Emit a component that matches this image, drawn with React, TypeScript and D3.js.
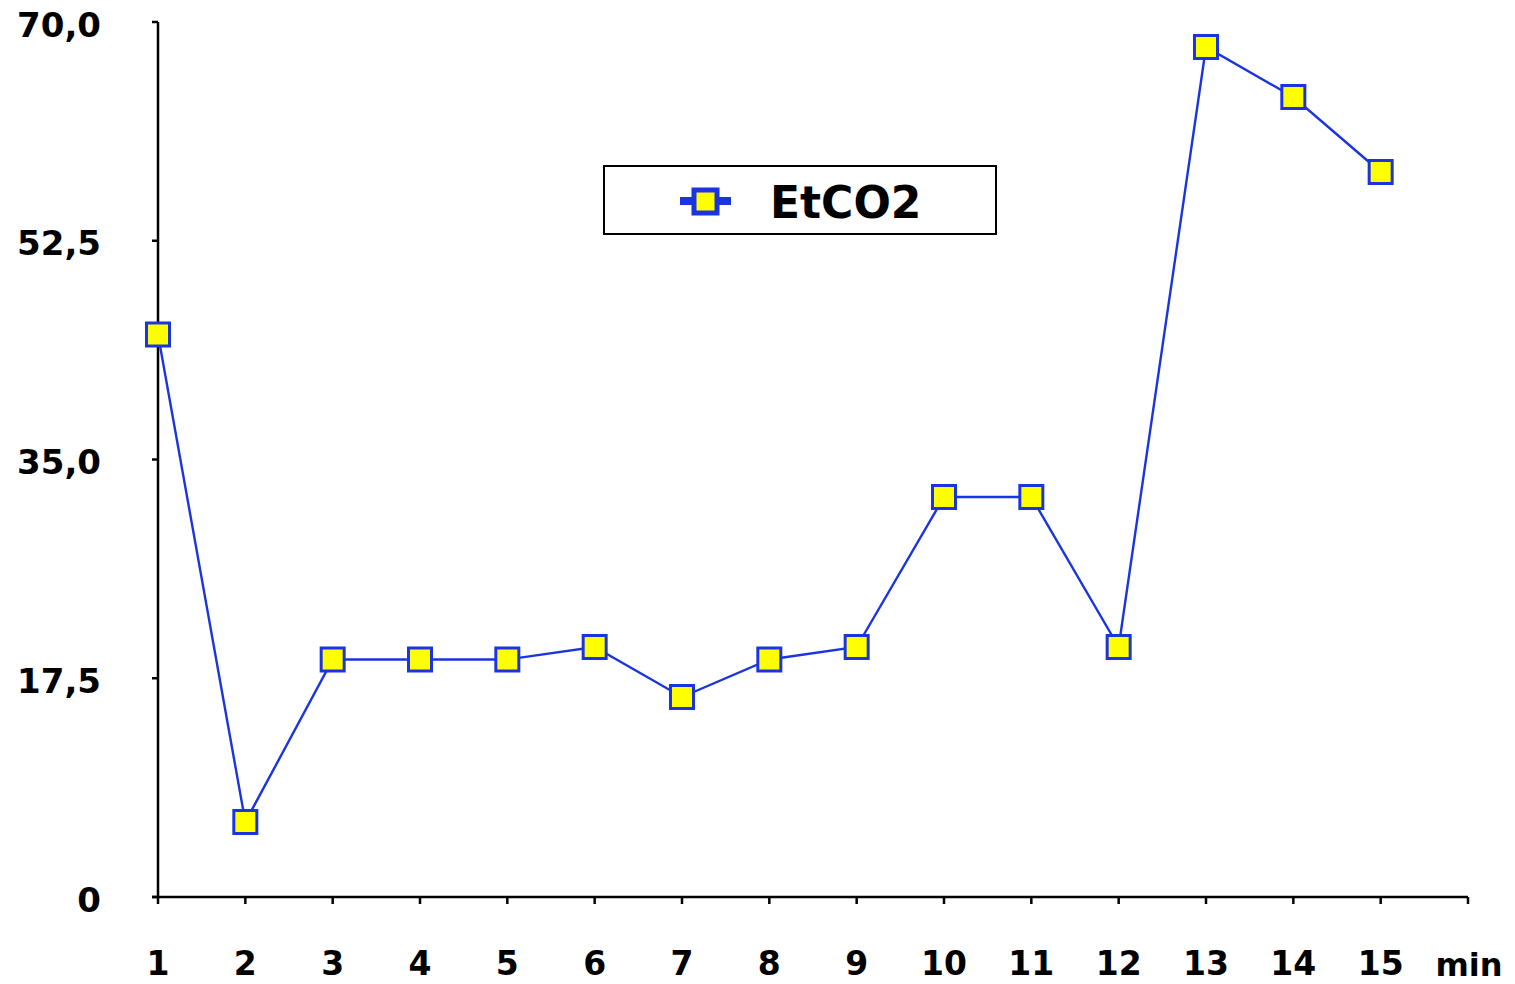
import React from "react";
import * as d3 from "d3";

const minutes = [1, 2, 3, 4, 5, 6, 7, 8, 9, 10, 11, 12, 13, 14, 15];
const etco2 = [45, 6, 19, 19, 19, 20, 16, 19, 20, 32, 32, 20, 68, 64, 58];
const yTicks = [0, 17.5, 35, 52.5, 70];
const yTickLabels = ["0", "17,5", "35,0", "52,5", "70,0"];
const seriesName = "EtCO2";
const xUnit = "min";

const W = 1515;
const H = 984;
const FONT = "'DejaVu Sans', Verdana, sans-serif";

export default function App() {
  const x = d3.scaleLinear().domain([1, 16]).range([158, 1468]);
  const y = d3.scaleLinear().domain([0, 70]).range([897, 22]);
  const line = d3
    .line<number>()
    .x((_, i) => x(minutes[i]))
    .y((d) => y(d));
  const blue = "#1a35e0";
  const ms = 23;
  const xTickVals = [...minutes, 16];

  return (
    <svg
      width={W}
      height={H}
      style={{ position: "absolute", left: 0, top: 0, background: "#fff" }}
      fontFamily={FONT}
    >
      {/* y axis */}
      <line x1={158} x2={158} y1={y(70)} y2={y(0)} stroke="#000" strokeWidth={2.5} />
      {yTicks.map((t, i) => (
        <g key={t}>
          <line x1={152} x2={158} y1={y(t)} y2={y(t)} stroke="#000" strokeWidth={2.5} />
          <text
            x={101}
            y={y(t) + 5}
            textAnchor="end"
            dominantBaseline="middle"
            fontSize={34}
            fontWeight="bold"
            fill="#000"
          >
            {yTickLabels[i]}
          </text>
        </g>
      ))}
      {/* x axis */}
      <line x1={152} x2={x(16)} y1={y(0)} y2={y(0)} stroke="#000" strokeWidth={2.5} />
      {xTickVals.map((t) => (
        <line key={t} x1={x(t)} x2={x(t)} y1={y(0)} y2={y(0) + 7} stroke="#000" strokeWidth={2.5} />
      ))}
      {minutes.map((m) => (
        <text
          key={m}
          x={x(m)}
          y={975}
          textAnchor="middle"
          fontSize={33}
          fontWeight="bold"
          fill="#000"
        >
          {m}
        </text>
      ))}
      <text x={1469} y={976} textAnchor="middle" fontSize={32} fontWeight="bold" fill="#000">
        {xUnit}
      </text>

      {/* series */}
      <path d={line(etco2) || ""} fill="none" stroke={blue} strokeWidth={2.4} />
      {etco2.map((v, i) => (
        <rect
          key={i}
          x={x(minutes[i]) - ms / 2}
          y={y(v) - ms / 2}
          width={ms}
          height={ms}
          fill="#ffff00"
          stroke={blue}
          strokeWidth={3}
        />
      ))}

      {/* legend */}
      <rect x={604} y={166} width={392} height={68} fill="#fff" stroke="#000" strokeWidth={2} />
      <line x1={680} x2={731} y1={201} y2={201} stroke={blue} strokeWidth={8} />
      <rect x={694} y={190} width={23} height={23} fill="#ffff00" stroke={blue} strokeWidth={5} />
      <text x={770} y={218} fontSize={44} fontWeight="bold" fill="#000">
        {seriesName}
      </text>
    </svg>
  );
}
